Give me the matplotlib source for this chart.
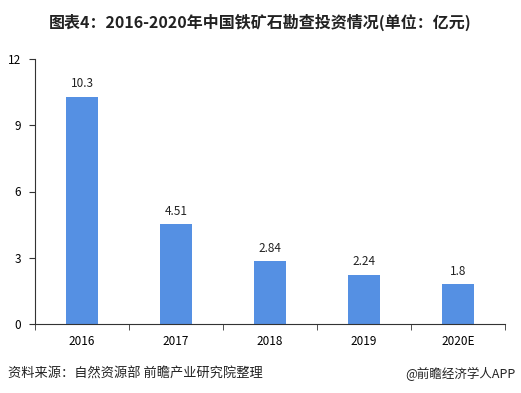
import matplotlib
matplotlib.use("Agg")
import matplotlib.pyplot as plt

plt.rcParams['font.family'] = ['Noto Sans CJK SC', 'DejaVu Sans']

categories = ["2016", "2017", "2018", "2019", "2020E"]
values = [10.3, 4.51, 2.84, 2.24, 1.8]
value_labels = ["10.3", "4.51", "2.84", "2.24", "1.8"]
yticks = [0, 3, 6, 9, 12]

fig = plt.figure(figsize=(5.21, 3.93), dpi=100)
ax = fig.add_axes([35/521, 1-324/393, 470/521, 265/393])

x = list(range(len(categories)))
bars = ax.bar(x, values, width=0.35, color="#5590E3", zorder=2)
for xi, v, lab in zip(x, values, value_labels):
    ax.text(xi, v + 0.3, lab, ha="center", va="bottom", fontsize=8.5, color="#222222")

ax.set_xlim(-0.5, len(categories) - 0.5)
ax.set_ylim(0, 12)
ax.set_yticks(yticks)
ax.set_yticklabels([str(t) for t in yticks], fontsize=8.5)
ax.set_xticks(x)
ax.set_xticklabels(categories, fontsize=8.5)
ax.tick_params(axis="x", length=0, pad=8)
ax.set_xticks([i + 0.5 for i in range(-1, len(categories))], minor=True)
ax.tick_params(axis="x", which="minor", length=4, direction="out", color="#333333")
ax.tick_params(axis="y", length=4, direction="out", color="#333333", pad=6)
for s in ["top", "right"]:
    ax.spines[s].set_visible(False)
ax.spines["left"].set_color("#333333")
ax.spines["bottom"].set_color("#333333")

fig.text(0.5, 1-22/393, "图表4：2016-2020年中国铁矿石勘查投资情况(单位：亿元)",
         ha="center", va="center", fontsize=11.5, fontweight="bold", color="#222222")
fig.text(8/521, 1-374/393, "资料来源：自然资源部 前瞻产业研究院整理",
         ha="left", va="center", fontsize=9.5, color="#222222")
fig.text(516/521, 1-374/393, "@前瞻经济学人APP",
         ha="right", va="center", fontsize=9, color="#222222")

fig.savefig("out.png", dpi=100)
